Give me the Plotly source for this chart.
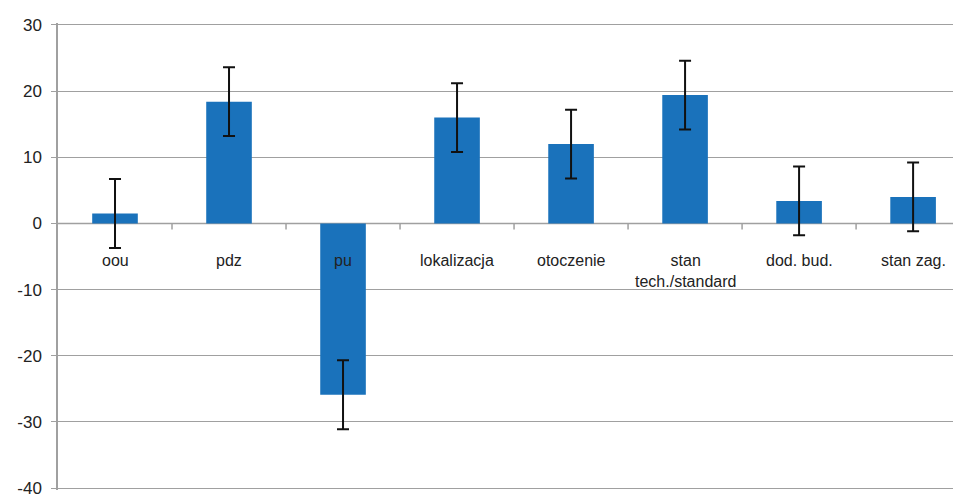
import plotly.graph_objects as go

categories = ["oou", "pdz", "pu", "lokalizacja", "otoczenie",
              "stan<br>tech./standard", "dod. bud.", "stan zag."]
values = [1.5, 18.4, -25.9, 16.0, 12.0, 19.4, 3.4, 4.0]
errors = [5.2, 5.2, 5.2, 5.2, 5.2, 5.2, 5.2, 5.2]
y_ticks = [30, 20, 10, 0, -10, -20, -30, -40]
y_tick_text = ["30", "20", "10", "0", "-10", "-20", "-30", "-40"]

BAR = "#1a72bb"
GRID = "#a0a0a0"
FONT = "Liberation Sans, Arial, sans-serif"

x = list(range(len(categories)))

fig = go.Figure()
fig.add_trace(go.Bar(
    x=x, y=values, width=0.40,
    marker=dict(color=BAR, line=dict(width=0)),
    error_y=dict(type="data", array=errors, visible=True,
                 color="#111111", thickness=2, width=6),
))

# category labels sit just under the zero line
annotations = [
    dict(x=xi, y=0, xref="x", yref="y", text=lab, showarrow=False,
         yanchor="top", yshift=-27, align="center",
         font=dict(family=FONT, size=16, color="#222222"))
    for xi, lab in zip(x, categories)
]

# zero line with small category-boundary ticks hanging below it
shapes = [dict(type="line", xref="paper", yref="y", x0=0, x1=1, y0=0, y1=0,
               line=dict(color=GRID, width=1.5), layer="below")]
for xi in x[:-1]:
    shapes.append(dict(type="line", xref="x", yref="y", ysizemode="pixel",
                       yanchor=0, x0=xi + 0.5, x1=xi + 0.5, y0=0, y1=-6,
                       line=dict(color=GRID, width=1.5)))

fig.update_layout(
    width=953, height=498,
    margin=dict(l=58, r=0, t=23, b=3),
    paper_bgcolor="white", plot_bgcolor="white",
    showlegend=False,
    annotations=annotations,
    shapes=shapes,
    xaxis=dict(range=[-0.5, 7.35], showticklabels=False, showgrid=False,
               zeroline=False, showline=False, ticks=""),
    yaxis=dict(range=[-40.3, 30.3], tickvals=y_ticks, ticktext=y_tick_text,
               showgrid=True, gridcolor=GRID, gridwidth=1.2, zeroline=False,
               showline=True, linecolor=GRID, linewidth=1.5,
               ticks="outside", ticklen=5, tickcolor=GRID, tickwidth=1.2,
               ticklabelstandoff=6, ticklabeloverflow="allow",
               tickfont=dict(family=FONT, size=17, color="#222222")),
)

fig.write_html("out.html")
